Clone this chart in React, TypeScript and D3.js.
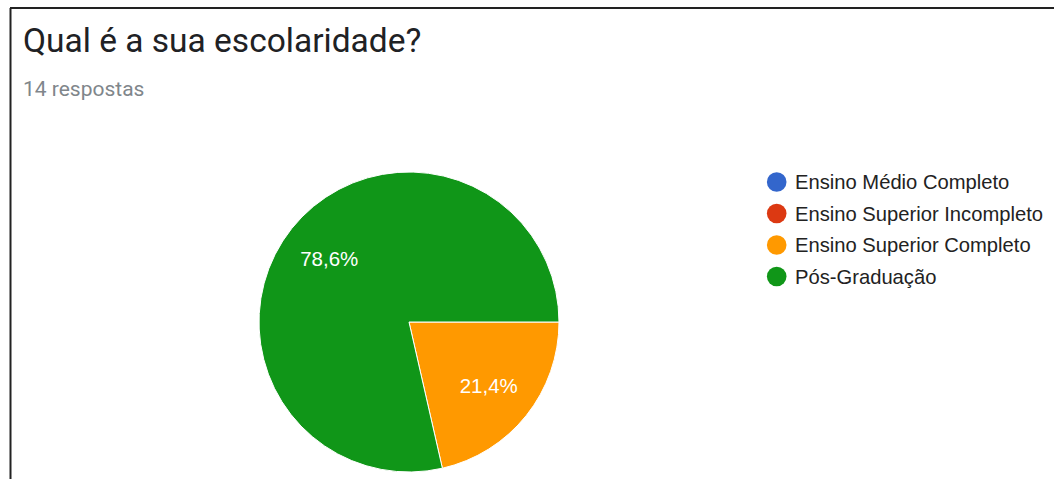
import React from "react";
import * as d3 from "d3";

const title = "Qual é a sua escolaridade?";
const subtitle = "14 respostas";
const categories = [
  "Ensino Médio Completo",
  "Ensino Superior Incompleto",
  "Ensino Superior Completo",
  "Pós-Graduação",
];
const counts = [0, 0, 3, 11];
const colors = ["#3366cc", "#dc3912", "#ff9900", "#109618"];

export default function App() {
  const W = 1054;
  const H = 479;
  const cx = 409;
  const cy = 322;
  const r = 150;
  const total = d3.sum(counts);
  const data = categories.map((c, i) => ({ c, v: counts[i], color: colors[i] }));
  const pie = d3
    .pie<any>()
    .sort(null)
    .value((d) => d.v)
    .startAngle(Math.PI / 2)
    .endAngle(Math.PI / 2 + 2 * Math.PI);
  const arcs = pie(data);
  const arc = d3.arc<any>().innerRadius(0).outerRadius(r);
  const labelArc = d3.arc<any>().innerRadius(r * 0.68).outerRadius(r * 0.68);
  const fmt = (v: number) =>
    (Math.round((v / total) * 1000) / 10).toFixed(1).replace(".", ",") + "%";
  const legendY = d3
    .scalePoint<string>()
    .domain(categories)
    .range([182, 276.5]);

  return (
    <svg
      width={W}
      height={H}
      style={{ position: "absolute", left: 0, top: 0, background: "#fff" }}
    >
      <rect x={0} y={0} width={W} height={H} fill="#fff" />
      <line x1={10} y1={8} x2={W} y2={8} stroke="#222" strokeWidth={2} />
      <line x1={10.5} y1={8} x2={10.5} y2={H} stroke="#222" strokeWidth={2} />
      <text
        x={23}
        y={52}
        fontFamily="Roboto"
        fontSize={33.5}
        fill="#202124"
      >
        {title}
      </text>
      <text x={23} y={96} fontFamily="Roboto" fontSize={21} fill="#80868b">
        {subtitle}
      </text>
      <g transform={`translate(${cx},${cy})`}>
        {arcs
          .filter((a) => a.data.v > 0)
          .map((a, i) => (
            <path
              key={i}
              d={arc(a) as string}
              fill={a.data.color}
              stroke="#fff"
              strokeWidth={1}
            />
          ))}
        {arcs
          .filter((a) => a.data.v > 0)
          .map((a, i) => {
            const [x, y] = labelArc.centroid(a);
            return (
              <text
                key={"l" + i}
                x={x}
                y={y}
                textAnchor="middle"
                dominantBaseline="central"
                fontFamily="Arial, 'Liberation Sans'"
                fontSize={20.5}
                fill="#fff"
              >
                {fmt(a.data.v)}
              </text>
            );
          })}
      </g>
      {data.map((d) => (
        <g key={d.c} transform={`translate(0,${legendY(d.c)})`}>
          <circle cx={776.7} cy={0} r={9.8} fill={d.color} />
          <text
            x={795}
            y={0}
            dominantBaseline="central"
            fontFamily="Arial, 'Liberation Sans'"
            fontSize={20.2}
            fill="#222"
          >
            {d.c}
          </text>
        </g>
      ))}
    </svg>
  );
}
